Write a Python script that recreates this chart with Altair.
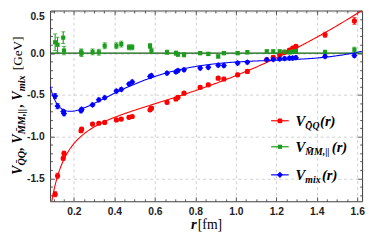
import numpy as np
import pandas as pd
import altair as alt

# ---- data ----
r = [0.107, 0.119, 0.147, 0.151, 0.235, 0.238, 0.292, 0.323, 0.352, 0.410, 0.434,
     0.472, 0.488, 0.576, 0.583, 0.660, 0.704, 0.714, 0.744, 0.824, 0.864, 0.913,
     0.941, 1.009, 1.057, 1.153, 1.185, 1.217, 1.241, 1.265, 1.281, 1.297, 1.441, 1.586]
v_qq = [-1.69, -1.47, -1.26, -1.20, -0.93, -0.91, -0.85, -0.84, -0.83, -0.80, -0.79,
        -0.77, -0.76, -0.68, -0.66, -0.59, -0.55, -0.53, -0.48, -0.41, -0.38, -0.30,
        -0.31, -0.26, -0.22, -0.08, -0.05, -0.02, 0.01, 0.035, 0.06, 0.08, 0.22, 0.385]
e_qq = [0.03, 0.03, 0.025, 0.025, 0.02, 0.02, 0.02, 0.015, 0.015, 0.015, 0.015,
        0.015, 0.015, 0.02, 0.02, 0.02, 0.02, 0.02, 0.02, 0.02, 0.02, 0.02,
        0.02, 0.02, 0.02, 0.02, 0.02, 0.02, 0.02, 0.02, 0.02, 0.02, 0.03, 0.04]
v_mm = [0.13, 0.10, 0.185, 0.03, 0.01, 0.0, 0.015, 0.01, 0.088, 0.088, 0.108,
        0.07, 0.07, 0.085, 0.03, 0.01, 0.0, -0.015, -0.02, 0.0, -0.01, -0.04,
        0.0, 0.0, 0.01, 0.02, 0.02, 0.02, 0.015, 0.01, 0.02, 0.025, 0.01, 0.04]
e_mm = [0.10, 0.09, 0.07, 0.05, 0.04, 0.04, 0.035, 0.035, 0.035, 0.035, 0.035,
        0.03, 0.03, 0.03, 0.03, 0.025, 0.025, 0.025, 0.025, 0.02, 0.02, 0.02,
        0.02, 0.02, 0.02, 0.02, 0.02, 0.02, 0.02, 0.02, 0.02, 0.02, 0.025, 0.03]
v_mix = [-0.515, -0.635, -0.70, -0.725, -0.69, -0.675, -0.62, -0.56, -0.535, -0.455, -0.435,
         -0.37, -0.345, -0.28, -0.27, -0.24, -0.225, -0.21, -0.20, -0.18, -0.17, -0.145,
         -0.15, -0.12, -0.11, -0.08, -0.075, -0.07, -0.065, -0.06, -0.06, -0.055, -0.04, -0.03]
e_mix = [0.03, 0.03, 0.025, 0.025, 0.025, 0.025, 0.02, 0.02, 0.02, 0.02, 0.02,
         0.02, 0.02, 0.02, 0.02, 0.02, 0.02, 0.02, 0.02, 0.02, 0.02, 0.02,
         0.02, 0.02, 0.02, 0.02, 0.02, 0.02, 0.02, 0.02, 0.02, 0.02, 0.02, 0.02]

x_major = [0.2, 0.4, 0.6, 0.8, 1.0, 1.2, 1.4, 1.6]
y_major = [-1.5, -1.0, -0.5, 0.0, 0.5]

W, H = 319, 195
XD = [0.082, 1.624]
YD = [-1.775, 0.51]
RED, GREEN, BLUE, DKGREEN = "#ff0000", "#1c9c1c", "#0000ff", "#0b5f0b"

ra = np.array(r)
df = pd.DataFrame({
    "r": r,
    "qq": v_qq, "qq_lo": np.array(v_qq) - np.array(e_qq), "qq_hi": np.array(v_qq) + np.array(e_qq),
    "mm": v_mm, "mm_lo": np.array(v_mm) - np.array(e_mm), "mm_hi": np.array(v_mm) + np.array(e_mm),
    "mix": v_mix, "mix_lo": np.array(v_mix) - np.array(e_mix), "mix_hi": np.array(v_mix) + np.array(e_mix),
})

# least-squares fits of the data (the reference shows fitted curves)
rr = np.linspace(XD[0] + 0.001, XD[1] - 0.001, 260)
def lsq(fns, x, y, xe):
    A = np.column_stack([f(x) for f in fns])
    c, *_ = np.linalg.lstsq(A, y, rcond=None)
    return np.column_stack([f(xe) for f in fns]) @ c

fit_qq = lsq([lambda t: 1 / t, np.ones_like, lambda t: t, lambda t: t ** 2], ra, np.array(v_qq), rr)
fit_mix = lsq([lambda t: 1 / t, np.ones_like, lambda t: t, lambda t: t ** 2, lambda t: t ** 3],
              ra, np.array(v_mix), rr)
fit_df = pd.DataFrame({"r": rr, "fqq": fit_qq, "fmix": fit_mix})

xs = alt.Scale(domain=XD, nice=False, zero=False)
ys = alt.Scale(domain=YD, nice=False, zero=False)

x_minor = [round(v, 2) for v in np.arange(0.10, 1.6001, 0.05)]
y_minor = [round(v, 1) for v in np.arange(-1.7, 0.5001, 0.1)]
XT = "abs(datum.value*5 - round(datum.value*5)) < 0.001"
YT = "abs(datum.value*2 - round(datum.value*2)) < 0.001"

def tick_axis(orient, offset, values, test):
    return alt.Axis(orient=orient, offset=offset, values=values, labels=False, grid=False,
                    domain=False, title=None, ticks=True, tickColor="#333", tickWidth=0.8,
                    tickSize={"condition": {"test": test, "value": 4.5}, "value": 2.5})

LBL = "replace(format(datum.value, '.1f'), '\u2212', '-')"
x_lab = alt.Axis(orient="bottom", values=x_major, labelExpr=LBL, labelFont="Liberation Sans",
                 labelFontWeight="bold", labelFontSize=10.5, labelColor="#222", labelPadding=6,
                 ticks=False, domain=False, grid=True, gridDash=[3, 3], gridColor="#c4c4c4",
                 gridWidth=0.8, title=None, labelFlush=False, labelOverlap=False)
y_lab = alt.Axis(orient="left", values=y_major, labelExpr=LBL, labelFont="Liberation Sans",
                 labelFontWeight="bold", labelFontSize=10.5, labelColor="#222", labelPadding=6,
                 labelBaseline={"condition": {"test": "datum.value > 0.4", "value": "top"},
                                "value": "middle"},
                 ticks=False, domain=False, grid=True, gridDash=[3, 3], gridColor="#c4c4c4",
                 gridWidth=0.8, title=None, labelFlush=False, labelOverlap=False)

base = alt.Chart(df)

def errbars(lo, hi, color, xaxis=None, yaxis=None):
    bar = base.mark_rule(color=color, strokeWidth=1.1).encode(
        x=alt.X("r:Q", scale=xs, axis=xaxis),
        y=alt.Y(f"{lo}:Q", scale=ys, axis=yaxis), y2=f"{hi}:Q")
    cap_lo = base.mark_tick(color=color, orient="horizontal", size=4, thickness=1.1).encode(
        x=alt.X("r:Q", scale=xs, axis=None), y=alt.Y(f"{lo}:Q", scale=ys, axis=None))
    cap_hi = base.mark_tick(color=color, orient="horizontal", size=4, thickness=1.1).encode(
        x=alt.X("r:Q", scale=xs, axis=None), y=alt.Y(f"{hi}:Q", scale=ys, axis=None))
    return [bar, cap_lo, cap_hi]

zero = alt.Chart(pd.DataFrame({"z": [0.0]})).mark_rule(color=DKGREEN, strokeWidth=1.2).encode(
    y=alt.Y("z:Q", scale=ys, axis=None))

line_qq = alt.Chart(fit_df).mark_line(color=RED, strokeWidth=1.1, clip=True).encode(
    x=alt.X("r:Q", scale=xs, axis=None), y=alt.Y("fqq:Q", scale=ys, axis=None))
line_mix = alt.Chart(fit_df).mark_line(color=BLUE, strokeWidth=1.1, clip=True).encode(
    x=alt.X("r:Q", scale=xs, axis=None), y=alt.Y("fmix:Q", scale=ys, axis=None))

pts_qq = base.mark_point(shape="circle", filled=True, size=28, color=RED, opacity=1).encode(
    x=alt.X("r:Q", scale=xs, axis=None), y=alt.Y("qq:Q", scale=ys, axis=None))
pts_mm = base.mark_point(shape="square", filled=True, size=18, color=GREEN, opacity=1).encode(
    x=alt.X("r:Q", scale=xs, axis=None), y=alt.Y("mm:Q", scale=ys, axis=None))
pts_mix = base.mark_point(shape="diamond", filled=True, size=40, color=BLUE, opacity=1).encode(
    x=alt.X("r:Q", scale=xs, axis=None), y=alt.Y("mix:Q", scale=ys, axis=None))

one = alt.Data(values=[{"k": 0}])

def txt(s, x, y, size, style="italic", weight="bold", angle=0, font="Liberation Serif"):
    return alt.Chart(one).mark_text(text=s, font=font, fontSize=size, fontStyle=style,
                                    fontWeight=weight, angle=angle, align="left",
                                    baseline="alphabetic", color="black").encode(
        x=alt.value(x), y=alt.value(y))

# legend
legend = []
rows = [(112.7, RED, "circle", 28, "Q\u0304Q"), (139.3, GREEN, "square", 18, "M\u0304M,||"),
        (168.0, BLUE, "diamond", 40, "mix")]
sub_w = {"Q\u0304Q": 14, "M\u0304M,||": 26, "mix": 16}
for yy, col, shp, sz, sub in rows:
    legend.append(alt.Chart(one).mark_rule(color=col, strokeWidth=1.2).encode(
        x=alt.value(226), x2=alt.value(244), y=alt.value(yy)))
    legend.append(alt.Chart(one).mark_point(shape=shp, filled=True, size=sz, color=col,
                                            opacity=1).encode(x=alt.value(235), y=alt.value(yy)))
    legend.append(txt("V", 251, yy + 5, 15))
    legend.append(txt(sub, 261, yy + 8.5, 10))
    legend.append(txt("(r)", 262 + sub_w[sub], yy + 5, 15))

# y-axis title pieces (rotated, reading bottom to top)
XB, XS = -29, -26
ytitle = [
    txt("V", XB, 168, 14, angle=270),
    txt("Q\u0304Q", XS, 158.5, 10.5, angle=270),
    txt(",", XB, 143, 14, angle=270),
    txt("V", XB, 136, 14, angle=270),
    txt("M\u0304M,||", XS, 126.5, 10.5, angle=270),
    txt(",", XB, 99, 14, angle=270),
    txt("V", XB, 92, 14, angle=270),
    txt("mix", XS, 82.5, 10.5, angle=270),
    txt("[GeV]", XB, 61, 13.5, style="normal", weight="normal", angle=270),
]
xtitle = [
    txt("r", 144, 223.5, 15),
    txt("[fm]", 151, 223.5, 14, style="normal", weight="normal"),
]

layers = (errbars("qq_lo", "qq_hi", RED, x_lab, y_lab)
          + errbars("mm_lo", "mm_hi", GREEN, tick_axis("top", -H, x_minor, XT),
                    tick_axis("right", -W, y_minor, YT))
          + errbars("mix_lo", "mix_hi", BLUE, tick_axis("bottom", -H, x_minor, XT),
                    tick_axis("left", -W, y_minor, YT)))

chart = alt.layer(zero, line_qq, line_mix, *layers, pts_qq, pts_mm, pts_mix,
                  *legend, *ytitle, *xtitle).resolve_scale(
    x="shared", y="shared").resolve_axis(x="independent", y="independent").properties(
    width=W, height=H, autosize=alt.AutoSizeParams(type="none"),
    padding={"left": 43, "top": 0, "right": 4, "bottom": 36}
).configure_view(stroke="#3a3a3a", strokeWidth=1)

chart.save("out.html", embed_options={"renderer": "svg", "actions": False})
